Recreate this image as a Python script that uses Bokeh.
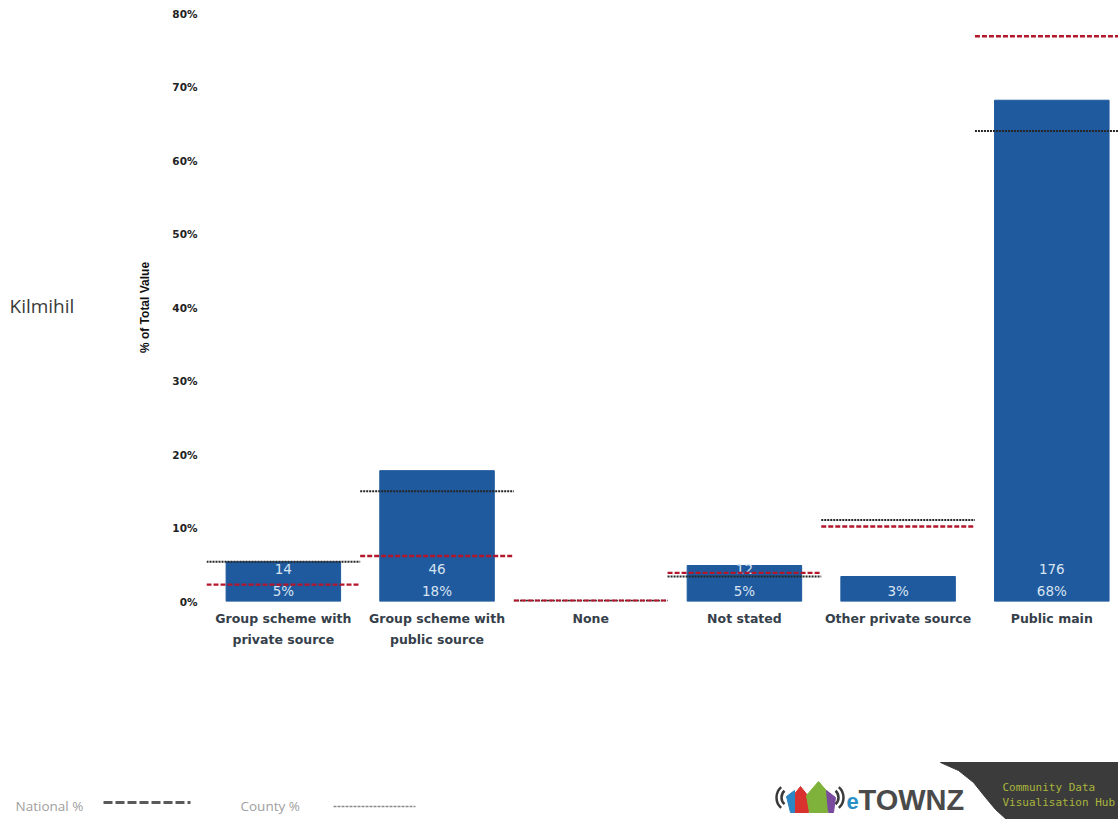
from bokeh.core.properties import value
from bokeh.embed import file_html
from bokeh.layouts import column, row
from bokeh.models import ColumnDataSource, FixedTicker, Range1d
from bokeh.plotting import figure
from bokeh.resources import INLINE

# Water supply categories for Kilmihil, with the county and national comparison shares
categories = ["Group scheme with\nprivate source", "Group scheme with\npublic source", "None",
              "Not stated", "Other private source", "Public main"]
shares = [5.4, 17.8, 0.0, 4.9, 3.4, 68.2]
counts = ["14", "46", "", "12", "", "176"]
county_pct = [5.4, 15.0, 0.1, 3.4, 11.1, 64.0]
national_pct = [2.3, 6.2, 0.1, 3.9, 10.2, 76.9]
y_ticks = [0, 10, 20, 30, 40, 50, 60, 70, 80]

BAR = "#1f5a9e"
LEFT_W = 130
TOP_H = 660
positions = [i + 0.5 for i in range(len(categories))]
visible = [s > 0 for s in shares]

p = figure(width=1118 - LEFT_W, height=TOP_H, output_backend="svg", toolbar_location=None,
           x_range=Range1d(0, 5.934), y_range=Range1d(0, 80), frame_align=False,
           min_border_left=206 - LEFT_W, min_border_right=0, min_border_top=13, min_border_bottom=59)
p.outline_line_color = None
p.grid.visible = False

bars = ColumnDataSource(dict(x=[x for x, v in zip(positions, visible) if v],
                             top=[s for s, v in zip(shares, visible) if v]))
p.vbar(x="x", top="top", bottom=0, width=0.745, color=BAR, source=bars)

# Count and share labels sit at fixed offsets above the baseline of each bar
pct_src = ColumnDataSource(dict(x=[x for x, v in zip(positions, visible) if v],
                                y=[0] * sum(visible),
                                t=[f"{round(s)}%" for s, v in zip(shares, visible) if v]))
p.text("x", "y", text="t", source=pct_src, text_color="#d7e4f2", text_font_size="13.5px",
       text_font=value("DejaVu Sans"), text_align="center", text_baseline="middle", y_offset=-11)
cnt_src = ColumnDataSource(dict(x=positions, y=[0] * len(positions), t=counts))
p.text("x", "y", text="t", source=cnt_src, text_color="#d7e4f2", text_font_size="13.5px",
       text_font=value("DejaVu Sans"), text_align="center", text_baseline="middle", y_offset=-33)

left = [x - 0.5 for x in positions]
right = [x + 0.5 for x in positions]
p.segment(left, county_pct, right, county_pct, line_color="#262626", line_width=2, line_dash="2 1")
p.segment(left, national_pct, right, national_pct, line_color="#b3172b", line_width=2.4, line_dash="5 2")

p.yaxis.ticker = FixedTicker(ticks=y_ticks)
p.yaxis.major_label_overrides = {t: f"{t}%" for t in y_ticks}
p.yaxis.axis_line_color = None
p.yaxis.major_tick_line_color = None
p.yaxis.minor_tick_line_color = None
p.yaxis.major_label_standoff = 3
p.yaxis.major_label_text_font = "DejaVu Sans"
p.yaxis.major_label_text_font_style = "bold"
p.yaxis.major_label_text_font_size = "10.5px"
p.yaxis.major_label_text_color = "#222222"
p.yaxis.axis_label = "% of Total Value"
p.yaxis.axis_label_text_font = "Liberation Sans"
p.yaxis.axis_label_text_font_style = "bold"
p.yaxis.axis_label_text_font_size = "12px"
p.yaxis.axis_label_text_color = "#111111"
p.yaxis.axis_label_standoff = 17

p.xaxis.ticker = FixedTicker(ticks=positions)
p.xaxis.major_label_overrides = dict(zip(positions, categories))
p.xaxis.axis_line_color = None
p.xaxis.major_tick_line_color = None
p.xaxis.minor_tick_line_color = None
p.xaxis.major_label_standoff = 3
p.xaxis.major_label_text_font = "DejaVu Sans"
p.xaxis.major_label_text_font_style = "bold"
p.xaxis.major_label_text_font_size = "12.5px"
p.xaxis.major_label_text_line_height = 1.4
p.xaxis.major_label_text_color = "#36404a"

# Left strip holding the place name, in pixel coordinates
side = figure(width=LEFT_W, height=TOP_H, output_backend="svg", toolbar_location=None,
              x_range=Range1d(0, LEFT_W), y_range=Range1d(TOP_H, 0), frame_align=False,
              min_border=0, x_axis_location=None, y_axis_location=None)
side.outline_line_color = None
side.grid.visible = False
side.text([9], [305], text=["Kilmihil"], text_font=value("Open Sans"), text_font_size="19px",
          text_color="#3a3a3a", text_baseline="middle")

# Footer strip: legend on the left, brand mark on the right, in pixel coordinates
f = figure(width=1118, height=819 - TOP_H, output_backend="svg", toolbar_location=None,
           x_range=Range1d(0, 1118), y_range=Range1d(819, TOP_H), frame_align=False,
           min_border=0, x_axis_location=None, y_axis_location=None)
f.outline_line_color = None
f.grid.visible = False

def note(x, y, txt, size, color, font, style="normal"):
    f.text([x], [y], text=[txt], text_font=value(font), text_font_size=size, text_color=color,
           text_font_style=style, text_align="left", text_baseline="middle")

note(15, 805, "National %", "13.5px", "#a0a0a0", "Open Sans")
note(240, 805, "County %", "13.5px", "#a0a0a0", "Open Sans")
f.line([103, 190], [802, 802], line_color="#5a5a5a", line_width=3, line_dash="9 3")
f.line([333, 415], [806, 806], line_color="#8c8c8c", line_width=1.5, line_dash="3 1")

swoosh_x = [940, 1118, 1118, 1006, 995, 985, 973, 958]
swoosh_y = [762, 762, 819, 819, 809, 797, 782, 770]
f.patch(swoosh_x, swoosh_y, color="#3b3b3b")
note(1002, 787, "Community Data", "11px", "#a9b53c", "DejaVu Sans Mono")
note(1002, 802, "Visualisation Hub", "11px", "#a9b53c", "DejaVu Sans Mono")

f.patches([[792, 800, 808, 808, 792], [806, 818, 830, 827, 809], [786, 794, 794, 790], [826, 835, 833, 828]],
          [[796, 786, 796, 812, 812], [795, 781, 795, 812, 812], [796, 790, 812, 812], [790, 797, 812, 812]],
          color=["#d9322e", "#7fb23a", "#2b86c5", "#7a4a9e"])
f.arc([790, 790], [797, 797], radius=[9, 14], start_angle=2.3, end_angle=3.98, line_color="#3a3a3a", line_width=2.5)
f.arc([829, 829], [797, 797], radius=[9, 14], start_angle=-0.84, end_angle=0.84, line_color="#3a3a3a", line_width=2.5)
note(846, 801, "e", "22px", "#2a8fc4", "Liberation Sans", "bold")
note(858, 799, "TOWNZ", "29px", "#4a4a4a", "Liberation Sans", "bold")

open("out.html", "w").write(file_html(column(row(side, p, spacing=0), f, spacing=0), INLINE))
